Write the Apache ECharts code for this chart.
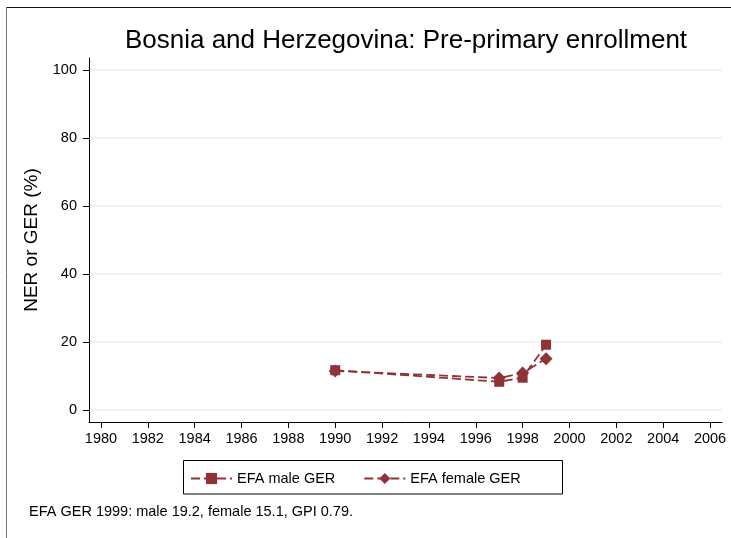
<!DOCTYPE html>
<html>
<head>
<meta charset="utf-8">
<title>Bosnia and Herzegovina: Pre-primary enrollment</title>
<script src="https://cdn.jsdelivr.net/npm/echarts@6/dist/echarts.min.js"></script>
<style>
  html, body { margin: 0; padding: 0; background: #fff; }
  #main { width: 731px; height: 538px; }
</style>
</head>
<body>
<div id="main"></div>
<script>
// data
var years = [1990, 1997, 1998, 1999];
var maleGer = [11.7, 8.3, 9.5, 19.2];
var femaleGer = [11.5, 9.4, 10.9, 15.1];
var xTicks = [1980, 1982, 1984, 1986, 1988, 1990, 1992, 1994, 1996, 1998, 2000, 2002, 2004, 2006];
var yTicks = [0, 20, 40, 60, 80, 100];
var seriesNames = ['EFA male GER', 'EFA female GER'];
var note = 'EFA GER 1999: male 19.2, female 15.1, GPI 0.79.';

var red = '#8f3339';
var font = 'Liberation Sans, Arial, sans-serif';

function pairs(xs, ys) {
    var out = [];
    for (var i = 0; i < xs.length; i++) { out.push([xs[i], ys[i]]); }
    return out;
}

var chart = echarts.init(document.getElementById('main'), null, { renderer: 'canvas' });

var option = {
    backgroundColor: '#fff',
    animation: false,
    title: {
        text: 'Bosnia and Herzegovina: Pre-primary enrollment',
        left: 401,
        top: 23,
        textAlign: 'center',
        textStyle: { fontFamily: font, fontSize: 26, fontWeight: 'normal', color: '#000' }
    },
    grid: { left: 89, right: 9, top: 58, bottom: 116, containLabel: false },
    xAxis: {
        type: 'value',
        min: 1979.49,
        max: 2006.51,
        axisLine: { show: true, onZero: false, lineStyle: { color: '#000', width: 1 } },
        axisTick: { show: true, length: 6, customValues: xTicks, lineStyle: { color: '#000' } },
        axisLabel: {
            customValues: xTicks, margin: 9, color: '#000',
            fontFamily: font, fontSize: 14.5,
            formatter: function (v) { return String(v); }
        },
        splitLine: { show: false }
    },
    yAxis: {
        type: 'value',
        min: -3.53,
        max: 103.53,
        name: 'NER or GER (%)',
        nameLocation: 'middle',
        nameGap: 48,
        nameTextStyle: { fontFamily: font, fontSize: 19, color: '#000' },
        axisLine: { show: true, onZero: false, lineStyle: { color: '#000', width: 1 } },
        axisTick: { show: true, length: 6, customValues: yTicks, lineStyle: { color: '#000' } },
        axisLabel: {
            customValues: yTicks, margin: 12, color: '#000',
            fontFamily: font, fontSize: 14.5
        },
        splitLine: { show: true, lineStyle: { color: '#e9eff3', width: 1.5 } }
    },
    legend: {
        data: seriesNames,
        left: 190,
        top: 471,
        itemWidth: 41,
        itemHeight: 14,
        itemGap: 28,
        padding: 0,
        textStyle: { fontFamily: font, fontSize: 14.5, color: '#000' }
    },
    series: [
        {
            name: seriesNames[0],
            type: 'line',
            data: pairs(years, maleGer),
            symbol: 'rect',
            symbolSize: 10,
            itemStyle: { color: red },
            lineStyle: { color: red, width: 1.8, type: [9, 4] },
            z: 3
        },
        {
            name: seriesNames[1],
            type: 'line',
            data: pairs(years, femaleGer),
            symbol: 'diamond',
            symbolSize: 13,
            itemStyle: { color: red },
            lineStyle: { color: red, width: 1.8, type: [9, 4] },
            z: 2
        }
    ],
    graphic: [
        { type: 'line', shape: { x1: 6, y1: 7.5, x2: 731, y2: 7.5 }, style: { stroke: '#111', lineWidth: 1.2 }, silent: true },
        { type: 'line', shape: { x1: 6.5, y1: 7, x2: 6.5, y2: 538 }, style: { stroke: '#777', lineWidth: 1 }, silent: true },
        { type: 'rect', shape: { x: 183.5, y: 460.5, width: 379, height: 33.5 }, style: { fill: null, stroke: '#000', lineWidth: 1 }, silent: true },
        {
            type: 'text', left: 29, top: 504,
            style: { text: note, fontFamily: font, fontSize: 14.5, fill: '#000' },
            silent: true
        }
    ]
};

chart.setOption(option);
</script>
</body>
</html>
